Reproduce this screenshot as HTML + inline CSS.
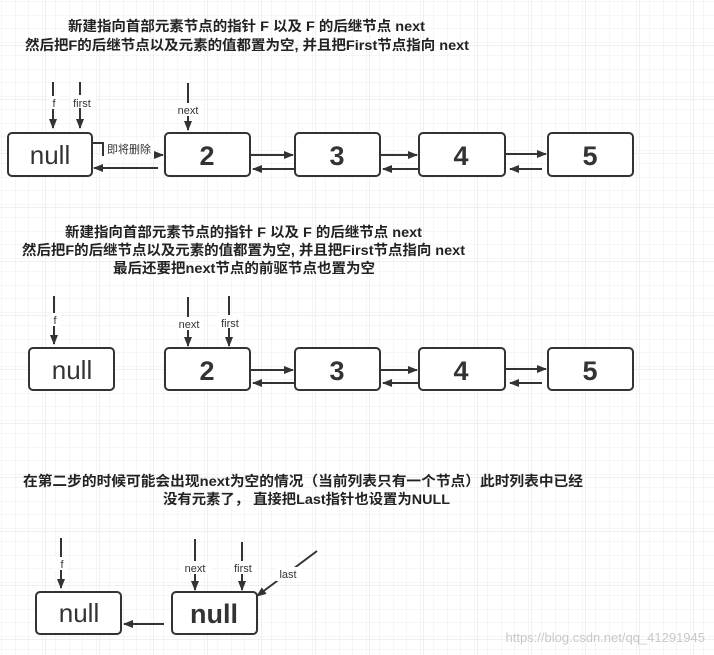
<!DOCTYPE html>
<html><head><meta charset="utf-8"><style>
html,body{margin:0;padding:0;background:#fff}
svg{display:block}
.cap{font-family:"Liberation Sans","Noto Sans CJK SC",sans-serif;font-weight:bold;font-size:14px;fill:#222}
.lbl{font-family:"Liberation Sans","Noto Sans CJK SC",sans-serif;font-size:11px;fill:#333;text-anchor:middle}
.num{font-family:"Liberation Sans",sans-serif;font-weight:bold;font-size:27px;fill:#333;text-anchor:middle}
.nul{font-family:"Liberation Sans",sans-serif;font-size:26px;fill:#333;text-anchor:middle}
.box{fill:#fff;stroke:#333;stroke-width:2}
.ln{stroke:#333;stroke-width:2;fill:none}
</style></head><body>
<svg width="714" height="655" viewBox="0 0 714 655">
<defs>
<pattern id="g" width="13.5" height="13.5" patternUnits="userSpaceOnUse" x="2" y="2">
<path d="M13.5 0V13.5M0 13.5H13.5" stroke="#eeeeee" stroke-width="1" fill="none"/>
</pattern>
<pattern id="G" width="54" height="54" patternUnits="userSpaceOnUse" x="-8" y="-8">
<path d="M54 0V54M0 54H54" stroke="#e2e2e2" stroke-width="1" fill="none"/>
</pattern>
<marker id="a" markerWidth="10" markerHeight="8" refX="9" refY="4" orient="auto" markerUnits="userSpaceOnUse">
<path d="M0 0L10 4L0 8Z" fill="#333"/>
</marker>
</defs>
<rect width="714" height="655" fill="url(#g)"/>
<rect width="714" height="655" fill="url(#G)"/>

<!-- Section 1 -->
<text class="cap" x="68" y="31" textLength="357" lengthAdjust="spacingAndGlyphs">新建指向首部元素节点的指针 F 以及 F 的后继节点 next</text>
<text class="cap" x="25" y="50" textLength="444" lengthAdjust="spacingAndGlyphs">然后把F的后继节点以及元素的值都置为空, 并且把First节点指向 next</text>

<line class="ln" x1="53" y1="82" x2="53" y2="128" marker-end="url(#a)"/>
<rect x="47" y="96" width="12" height="13" fill="#fff"/>
<text class="lbl" x="54" y="107">f</text>
<line class="ln" x1="80" y1="82" x2="80" y2="128" marker-end="url(#a)"/>
<rect x="70" y="95" width="26" height="13" fill="#fff"/>
<text class="lbl" x="82" y="107">first</text>
<line class="ln" x1="188" y1="83" x2="188" y2="130" marker-end="url(#a)"/>
<rect x="174" y="103" width="30" height="13" fill="#fff"/>
<text class="lbl" x="188" y="114">next</text>

<rect class="box" x="8" y="133" width="84" height="43" rx="4"/>
<text class="nul" x="50" y="164">null</text>
<rect class="box" x="165" y="133" width="85" height="43" rx="4"/>
<text class="num" x="207" y="165">2</text>
<rect class="box" x="295" y="133" width="85" height="43" rx="4"/>
<text class="num" x="337" y="165">3</text>
<rect class="box" x="419" y="133" width="86" height="43" rx="4"/>
<text class="num" x="461" y="165">4</text>
<rect class="box" x="548" y="133" width="85" height="43" rx="4"/>
<text class="num" x="590" y="165">5</text>

<path class="ln" d="M93 143L103 143L103 155L163 155" marker-end="url(#a)"/>
<rect x="104" y="141" width="50" height="15" fill="#fff"/>
<text class="lbl" x="129" y="153">即将删除</text>
<line class="ln" x1="158" y1="168" x2="94" y2="168" marker-end="url(#a)"/>
<line class="ln" x1="251" y1="155" x2="293" y2="155" marker-end="url(#a)"/>
<line class="ln" x1="294" y1="169" x2="253" y2="169" marker-end="url(#a)"/>
<line class="ln" x1="381" y1="155" x2="417" y2="155" marker-end="url(#a)"/>
<line class="ln" x1="418" y1="169" x2="383" y2="169" marker-end="url(#a)"/>
<line class="ln" x1="506" y1="154" x2="546" y2="154" marker-end="url(#a)"/>
<line class="ln" x1="542" y1="169" x2="510" y2="169" marker-end="url(#a)"/>

<!-- Section 2 -->
<text class="cap" x="65" y="237" textLength="357" lengthAdjust="spacingAndGlyphs">新建指向首部元素节点的指针 F 以及 F 的后继节点 next</text>
<text class="cap" x="22" y="255" textLength="443" lengthAdjust="spacingAndGlyphs">然后把F的后继节点以及元素的值都置为空, 并且把First节点指向 next</text>
<text class="cap" x="113" y="273" textLength="262" lengthAdjust="spacingAndGlyphs">最后还要把next节点的前驱节点也置为空</text>

<line class="ln" x1="54" y1="296" x2="54" y2="344" marker-end="url(#a)"/>
<rect x="48" y="313" width="12" height="13" fill="#fff"/>
<text class="lbl" x="55" y="324">f</text>
<line class="ln" x1="188" y1="297" x2="188" y2="346" marker-end="url(#a)"/>
<rect x="174" y="317" width="30" height="13" fill="#fff"/>
<text class="lbl" x="189" y="328">next</text>
<line class="ln" x1="229" y1="296" x2="229" y2="346" marker-end="url(#a)"/>
<rect x="217" y="315" width="26" height="13" fill="#fff"/>
<text class="lbl" x="230" y="327">first</text>

<rect class="box" x="29" y="348" width="85" height="42" rx="4"/>
<text class="nul" x="72" y="379">null</text>
<rect class="box" x="165" y="348" width="85" height="42" rx="4"/>
<text class="num" x="207" y="380">2</text>
<rect class="box" x="295" y="348" width="85" height="42" rx="4"/>
<text class="num" x="337" y="380">3</text>
<rect class="box" x="419" y="348" width="86" height="42" rx="4"/>
<text class="num" x="461" y="380">4</text>
<rect class="box" x="548" y="348" width="85" height="42" rx="4"/>
<text class="num" x="590" y="380">5</text>

<line class="ln" x1="251" y1="370" x2="293" y2="370" marker-end="url(#a)"/>
<line class="ln" x1="294" y1="383" x2="253" y2="383" marker-end="url(#a)"/>
<line class="ln" x1="381" y1="370" x2="417" y2="370" marker-end="url(#a)"/>
<line class="ln" x1="418" y1="383" x2="383" y2="383" marker-end="url(#a)"/>
<line class="ln" x1="506" y1="369" x2="546" y2="369" marker-end="url(#a)"/>
<line class="ln" x1="542" y1="383" x2="510" y2="383" marker-end="url(#a)"/>

<!-- Section 3 -->
<text class="cap" x="23" y="486" textLength="560" lengthAdjust="spacingAndGlyphs">在第二步的时候可能会出现next为空的情况（当前列表只有一个节点）此时列表中已经</text>
<text class="cap" x="163" y="504" textLength="287" lengthAdjust="spacingAndGlyphs">没有元素了， 直接把Last指针也设置为NULL</text>

<line class="ln" x1="61" y1="538" x2="61" y2="588" marker-end="url(#a)"/>
<rect x="55" y="557" width="12" height="13" fill="#fff"/>
<text class="lbl" x="62" y="568">f</text>
<line class="ln" x1="195" y1="539" x2="195" y2="590" marker-end="url(#a)"/>
<rect x="181" y="561" width="30" height="13" fill="#fff"/>
<text class="lbl" x="195" y="572">next</text>
<line class="ln" x1="242" y1="542" x2="242" y2="590" marker-end="url(#a)"/>
<rect x="230" y="561" width="26" height="13" fill="#fff"/>
<text class="lbl" x="243" y="572">first</text>
<line class="ln" x1="317" y1="551" x2="257" y2="596" marker-end="url(#a)"/>
<rect x="276" y="567" width="24" height="14" fill="#fff"/>
<text class="lbl" x="288" y="578">last</text>

<rect class="box" x="36" y="592" width="85" height="42" rx="4"/>
<text class="nul" x="79" y="622">null</text>
<rect class="box" x="172" y="592" width="85" height="42" rx="4"/>
<text class="num" x="214" y="623">null</text>
<line class="ln" x1="164" y1="624" x2="124" y2="624" marker-end="url(#a)"/>

<text x="705" y="642" style="font-family:'Liberation Sans',sans-serif;font-size:13px;fill:#c8c8c8;text-anchor:end">https://blog.csdn.net/qq_41291945</text>
</svg>
</body></html>
